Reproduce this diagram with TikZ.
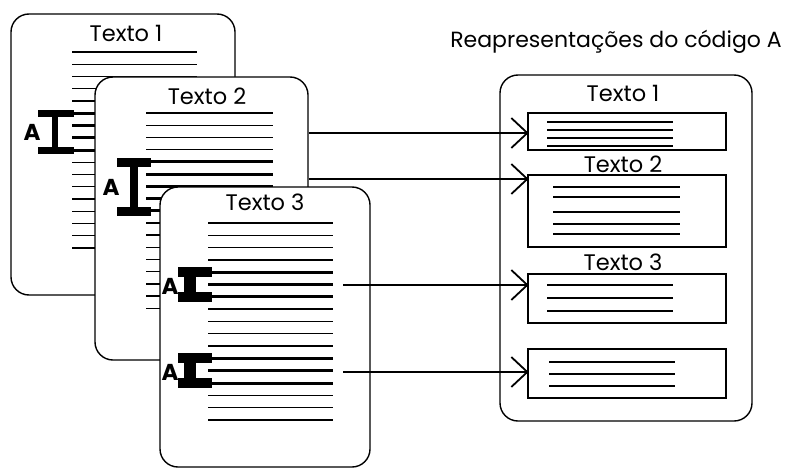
\documentclass[tikz,border=0pt]{standalone}
\usepackage{fontspec}
\setmainfont{Poppins}
\usetikzlibrary{arrows.meta}
\begin{document}
\begin{tikzpicture}[x=1pt,y=-1pt,
  page/.style={draw, fill=white, rounded corners=18pt, line width=1.4pt, inner sep=0pt},
  ln/.style={line width=1.4pt},
  thk/.style={line width=3pt},
  lbl/.style={font=\fontsize{22.5}{22.5}\selectfont, inner sep=0pt},
  alet/.style={font=\bfseries\fontsize{23}{23}\selectfont, inner sep=0pt},
  arr/.style={line width=1.3pt},
  barb/.style={line width=1.8pt, line join=miter},
  repbox/.style={draw, line width=1.4pt, inner sep=0pt},
  beam/.style={fill=black},
]
\useasboundingbox (0,0) rectangle (791,468);
% ---------- page 1 ----------
\node[page, minimum width=224pt, minimum height=281pt] (p1) at (123,154.5) {};
\node[lbl] (t1) at (126,33) {Texto 1};
\foreach \i in {0,...,16}{
  \pgfmathsetmacro{\yy}{52+12.25*\i}
  \ifnum\i>4 \ifnum\i<9 \draw[thk] (72,\yy) -- (197,\yy); \else \draw[ln] (72,\yy) -- (197,\yy); \fi
  \else \draw[ln] (72,\yy) -- (197,\yy); \fi
}
\fill[beam] (38,110) rectangle (74,116.5);
\fill[beam] (38,147) rectangle (74,153.5);
\fill[beam] (51.5,113) rectangle (57.5,150);
\node[alet] (a1) at (32,132) {A};
% ---------- page 2 ----------
\node[page, minimum width=213pt, minimum height=283pt] (p2) at (201.5,218.5) {};
\node[lbl] (t2) at (207,96) {Texto 2};
\foreach \i in {0,...,16}{
  \pgfmathsetmacro{\yy}{113+12.2*\i}
  \ifnum\i>3 \ifnum\i<9 \draw[thk] (146,\yy) -- (273,\yy); \else \draw[ln] (146,\yy) -- (273,\yy); \fi
  \else \draw[ln] (146,\yy) -- (273,\yy); \fi
}
\fill[beam] (117,157.5) rectangle (151,166.5);
\fill[beam] (117,206.5) rectangle (151,215.5);
\fill[beam] (129.5,162) rectangle (137.5,211);
\node[alet] (a2) at (111,187) {A};
% ---------- page 3 ----------
\node[page, minimum width=210pt, minimum height=280pt] (p3) at (265,327) {};
\node[lbl] (t3) at (265,202) {Texto 3};
\foreach \i in {0,...,16}{
  \pgfmathsetmacro{\yy}{223+12.31*\i}
  \ifnum\i>3 \ifnum\i<7 \draw[thk] (208,\yy) -- (333,\yy);
    \else \ifnum\i>10 \ifnum\i<14 \draw[thk] (208,\yy) -- (333,\yy); \else \draw[ln] (208,\yy) -- (333,\yy); \fi
    \else \draw[ln] (208,\yy) -- (333,\yy); \fi \fi
  \else \draw[ln] (208,\yy) -- (333,\yy); \fi
}
\foreach \ya/\yb in {272.2/296.9, 358.4/383.0}{
  \fill[beam] (178,\ya-5) rectangle (212,\ya+5);
  \fill[beam] (178,\yb-5) rectangle (212,\yb+5);
  \fill[beam] (183.5,\ya) rectangle (196,\yb);
}
\node[alet] (a3) at (170,286) {A};
\node[alet] (a4) at (170,372) {A};
% ---------- right side ----------
\node[font=\fontsize{22}{22}\selectfont, inner sep=0pt] (head) at (616,42) {Reapresentações do código A};
\node[page, fill=none, minimum width=252pt, minimum height=346pt] (rc) at (626,248) {};
\node[lbl] (r1) at (623,93) {Texto 1};
\node[lbl] (r2) at (623,164) {Texto 2};
\node[lbl] (r3) at (623,262) {Texto 3};
\node[repbox, minimum width=198pt, minimum height=37pt] (b1) at (627,131.5) {};
\node[repbox, minimum width=198pt, minimum height=72pt] (b2) at (627,211) {};
\node[repbox, minimum width=198pt, minimum height=49pt] (b3) at (627,298.5) {};
\node[repbox, minimum width=198pt, minimum height=49pt] (b4) at (627,373.5) {};
\foreach \yy in {122,130,138,146}{ \draw[ln] (547,\yy) -- (673,\yy); }
\foreach \yy in {187,197,212,224,234}{ \draw[ln] (553,\yy) -- (680,\yy); }
\foreach \yy in {285,298,311}{ \draw[ln] (547,\yy) -- (673,\yy); }
\foreach \yy in {362,374,386}{ \draw[ln] (549,\yy) -- (675,\yy); }
% ---------- arrows ----------
\coordinate (s1) at (p2.east |- 0,133);
\coordinate (s2) at (p2.east |- 0,179);
\coordinate (s3) at (343,285);
\coordinate (s4) at (343,372);
\foreach \k in {1,...,4}{
  \coordinate (e\k) at (s\k -| b\k.west);
  \draw[arr] (s\k) -- (e\k);
  \draw[barb] ([xshift=-16pt,yshift=15pt]e\k) -- (e\k) -- ([xshift=-16pt,yshift=-15pt]e\k);
}
\end{tikzpicture}
\end{document}
